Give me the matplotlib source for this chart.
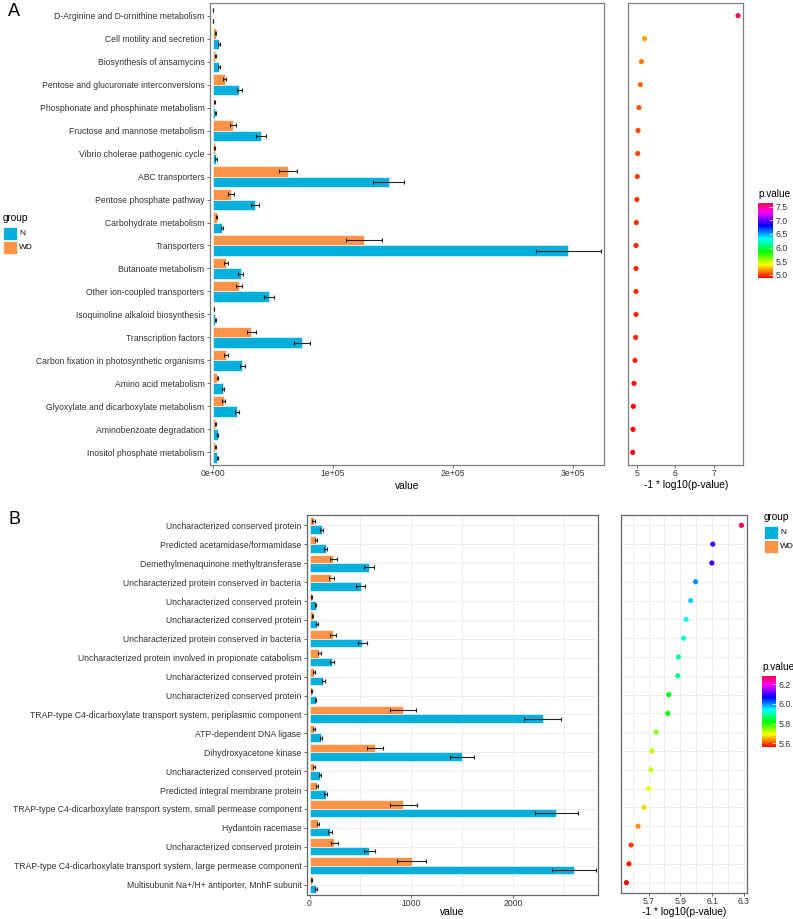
import numpy as np
import matplotlib
matplotlib.use("Agg")
import matplotlib.pyplot as plt
from matplotlib.colors import ListedColormap, Normalize, hsv_to_rgb
from matplotlib.patches import Rectangle

plt.rcParams['font.family'] = ['Liberation Sans', 'DejaVu Sans']

# ---- panel A data (KEGG pathways) ----
path_names = ["D-Arginine and D-ornithine metabolism", "Cell motility and secretion",
              "Biosynthesis of ansamycins", "Pentose and glucuronate interconversions",
              "Phosphonate and phosphinate metabolism", "Fructose and mannose metabolism",
              "Vibrio cholerae pathogenic cycle", "ABC transporters", "Pentose phosphate pathway",
              "Carbohydrate metabolism", "Transporters", "Butanoate metabolism",
              "Other ion-coupled transporters", "Isoquinoline alkaloid biosynthesis",
              "Transcription factors", "Carbon fixation in photosynthetic organisms",
              "Amino acid metabolism", "Glyoxylate and dicarboxylate metabolism",
              "Aminobenzoate degradation", "Inositol phosphate metabolism"]
path_N = [300, 5200, 5300, 22000, 2000, 40000, 2500, 146500, 35000, 7500,
          296000, 23000, 47000, 2000, 74000, 24400, 8300, 20000, 3900, 3600]
path_N_se = [100, 900, 900, 2000, 400, 3800, 500, 13000, 3300, 1000,
             27000, 2100, 4200, 400, 6800, 2300, 1000, 2000, 600, 600]
path_WD = [200, 2200, 2000, 9700, 1000, 17000, 1400, 62500, 15000, 3000,
           126000, 10500, 21700, 800, 32000, 11000, 3600, 9000, 1700, 1700]
path_WD_se = [100, 500, 500, 1400, 300, 2500, 400, 7500, 2100, 600,
              15000, 1600, 2400, 200, 4000, 1500, 600, 1300, 400, 400]
path_logp = [7.64, 5.19, 5.11, 5.08, 5.045, 5.02, 5.01, 5.00, 4.99, 4.975,
             4.966, 4.966, 4.966, 4.966, 4.957, 4.94, 4.915, 4.897, 4.888, 4.88]

# ---- panel B data (COG functions) ----
cog_names = ["Uncharacterized conserved protein", "Predicted acetamidase/formamidase",
             "Demethylmenaquinone methyltransferase", "Uncharacterized protein conserved in bacteria",
             "Uncharacterized conserved protein", "Uncharacterized conserved protein",
             "Uncharacterized protein conserved in bacteria",
             "Uncharacterized protein involved in propionate catabolism",
             "Uncharacterized conserved protein", "Uncharacterized conserved protein",
             "TRAP-type C4-dicarboxylate transport system, periplasmic component",
             "ATP-dependent DNA ligase", "Dihydroxyacetone kinase",
             "Uncharacterized conserved protein", "Predicted integral membrane protein",
             "TRAP-type C4-dicarboxylate transport system, small permease component",
             "Hydantoin racemase", "Uncharacterized conserved protein",
             "TRAP-type C4-dicarboxylate transport system, large permease component",
             "Multisubunit Na+/H+ antiporter, MnhF subunit"]
cog_N = [122, 158, 582, 503, 59, 69, 520, 217, 135, 59,
         2290, 115, 1497, 105, 161, 2424, 200, 589, 2599, 62]
cog_N_se = [15, 15, 48, 43, 8, 10, 40, 20, 14, 8,
            185, 12, 115, 12, 15, 210, 20, 50, 215, 8]
cog_WD = [40, 66, 234, 214, 23, 30, 234, 95, 46, 23,
          921, 46, 645, 40, 72, 921, 82, 243, 1003, 23]
cog_WD_se = [12, 12, 36, 27, 5, 7, 30, 13, 10, 5,
             127, 10, 80, 10, 10, 133, 12, 36, 145, 5]
cog_logp = [6.284, 6.104, 6.098, 5.996, 5.965, 5.936, 5.921, 5.888, 5.884, 5.827,
            5.821, 5.748, 5.721, 5.715, 5.702, 5.671, 5.634, 5.59, 5.577, 5.561]

col_N = '#00AFDB'
col_WD = '#FF9448'
txt = '#333333'
W, H = 793, 919

rainbow = ListedColormap(hsv_to_rgb(np.column_stack([np.linspace(0, 0.95, 256),
                                                     np.ones(256), np.ones(256)])))

fig = plt.figure(figsize=(W / 100, H / 100), dpi=100)


def rect(l, t, r, b):
    return [l / W, 1 - b / H, (r - l) / W, (b - t) / H]


def px_text(x, y, s, size, **kw):
    fig.text(x / W, 1 - y / H, s, fontsize=size, **kw)


def style(ax, edge, grid):
    for s in ax.spines.values():
        s.set_color(edge)
        s.set_linewidth(0.9)
    ax.tick_params(length=2.5, width=0.6, color='#555555', labelsize=6.2,
                   labelcolor=txt, pad=1.5)
    ax.tick_params(axis='x', length=2, pad=1)
    if grid:
        ax.set_axisbelow(True)
        ax.grid(True, which='both', color='#EBEBEB', lw=0.6)


def bars(ax, names, n, nse, wd, wdse, edge, grid):
    y = np.arange(len(names))
    h = 0.45
    ax.barh(y + h / 2, n, height=h, color=col_N, edgecolor='white', lw=0.4)
    ax.barh(y - h / 2, wd, height=h, color=col_WD, edgecolor='white', lw=0.4)
    ax.errorbar(n, y + h / 2, xerr=nse, fmt='none', ecolor='#222222', elinewidth=0.8,
                capsize=1.1, capthick=0.8)
    ax.errorbar(wd, y - h / 2, xerr=wdse, fmt='none', ecolor='#222222', elinewidth=0.8,
                capsize=1.1, capthick=0.8)
    ax.set_yticks(y)
    ax.set_yticklabels(names)
    ax.set_ylim(len(names) - 0.45, -0.55)
    style(ax, edge, grid)


def dots(ax, vals, edge, grid):
    y = np.arange(len(vals))
    ax.scatter(vals, y, c=vals, cmap=rainbow, s=14, linewidths=0, zorder=3)
    ax.set_ylim(len(vals) - 0.45, -0.55)
    ax.set_yticks(y)
    ax.set_yticklabels([])
    style(ax, edge, grid)
    ax.tick_params(axis='y', length=0)


def cbar(l, t, r, b, vals, ticks, fmt):
    cax = fig.add_axes(rect(l, t, r, b))
    norm = Normalize(min(vals), max(vals))
    cb = fig.colorbar(plt.cm.ScalarMappable(norm=norm, cmap=rainbow), cax=cax)
    cb.outline.set_visible(False)
    cb.set_ticks(ticks)
    cb.set_ticklabels([fmt.format(t) for t in ticks])
    cax.tick_params(length=3, width=0.5, color='white', direction='in', labelsize=6.3,
                    labelcolor=txt, pad=2)
    px_text(l, t - 9, 'p.value', 7.2, va='center', ha='left')


def group_legend(x, yt):
    px_text(x, yt, 'group', 7.2, va='center', ha='left')
    for k, (lab, c) in enumerate([('N', col_N), ('WD', col_WD)]):
        top = yt + 9 + 14 * k
        fig.patches.append(Rectangle((x / W, 1 - (top + 13) / H), 14 / W, 13 / H,
                                     transform=fig.transFigure, color=c, ec='white', lw=0.5))
        px_text(x + 16, top + 6.5, lab, 6.0, va='center', ha='left')


# ---- panel A ----
axA = fig.add_axes(rect(210, 3, 604, 465))
bars(axA, path_names, path_N, path_N_se, path_WD, path_WD_se, '#7F7F7F', False)
axA.set_xlim(-2500, 325800)
axA.set_xticks([0, 100000, 200000, 300000])
axA.set_xticklabels(['0e+00', '1e+05', '2e+05', '3e+05'])
px_text(407, 486, 'value', 7.4, va='center', ha='center')

axAd = fig.add_axes(rect(628, 3, 743, 465))
dots(axAd, path_logp, '#7F7F7F', False)
axAd.set_xlim(4.757, 7.77)
axAd.set_xticks([5, 6, 7])
px_text(686, 485, '-1 * log10(p-value)', 7.4, va='center', ha='center')

cbar(758, 203, 773, 278, path_logp, [5.0, 5.5, 6.0, 6.5, 7.0, 7.5], '{:.1f}')
group_legend(3, 218)

# ---- panel B ----
axB = fig.add_axes(rect(307, 515, 598, 895))
bars(axB, cog_names, cog_N, cog_N_se, cog_WD, cog_WD_se, '#666666', True)
axB.set_xlim(-25, 2834)
axB.set_xticks([0, 1000, 2000])
axB.set_xticks([500, 1500, 2500], minor=True)
axB.tick_params(axis='x', which='minor', length=0)
px_text(452, 912, 'value', 7.4, va='center', ha='center')

axBd = fig.add_axes(rect(621, 515, 747, 893))
dots(axBd, cog_logp, '#666666', True)
axBd.set_xlim(5.527, 6.319)
axBd.set_xticks([5.7, 5.9, 6.1, 6.3])
axBd.set_xticks([5.6, 5.8, 6.0, 6.2], minor=True)
axBd.tick_params(axis='x', which='minor', length=0)
px_text(684, 912, '-1 * log10(p-value)', 7.4, va='center', ha='center')

cbar(762, 676, 776, 747, cog_logp, [5.6, 5.8, 6.0, 6.2], '{:.1f}')
group_legend(764, 517)

px_text(8, 12, 'A', 13, va='center', ha='left')
px_text(8, 520, 'B', 13, va='center', ha='left')

fig.savefig('out.png', dpi=100)
